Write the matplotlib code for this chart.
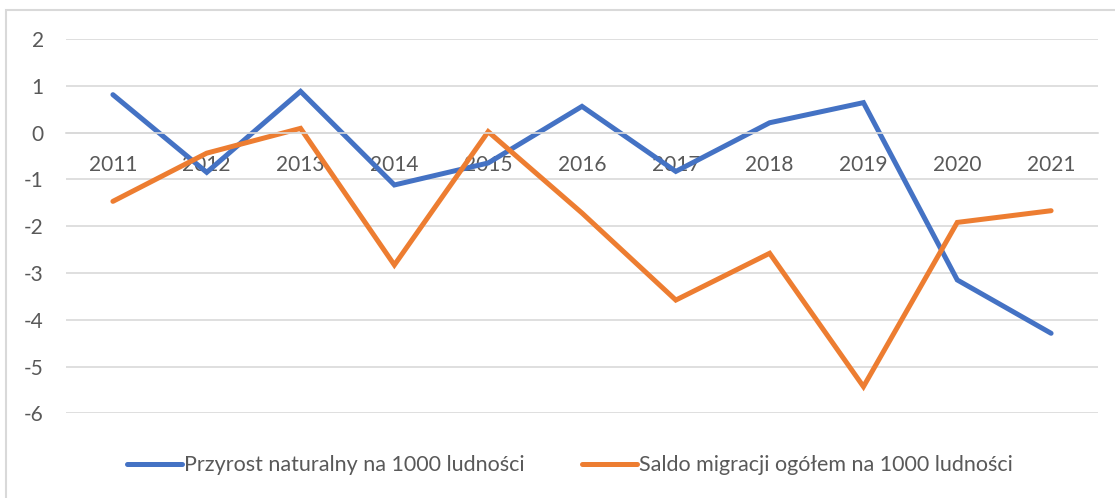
import matplotlib
matplotlib.use('Agg')
import matplotlib.pyplot as plt
from matplotlib.patches import Rectangle

plt.rcParams['font.family'] = ['Lato', 'DejaVu Sans']

# Data
years = ['2011', '2012', '2013', '2014', '2015', '2016',
         '2017', '2018', '2019', '2020', '2021']
przyrost = [0.81, -0.85, 0.88, -1.12, -0.65, 0.56, -0.83, 0.21, 0.64, -3.15, -4.29]
saldo = [-1.47, -0.44, 0.09, -2.83, 0.02, -1.72, -3.58, -2.58, -5.43, -1.92, -1.67]
yticks = [2, 1, 0, -1, -2, -3, -4, -5, -6]

label_przyrost = 'Przyrost naturalny na 1000 ludności'
label_saldo = 'Saldo migracji ogółem na 1000 ludności'

blue = '#4472C4'
orange = '#ED7D31'
grid_col = '#D9D9D9'
text_col = '#595959'

W, H = 1115, 498
fig = plt.figure(figsize=(W / 100, H / 100), dpi=100)

# outer chart border (partly cut off at right / bottom like the screenshot)
fig.patches.append(Rectangle((6 / W, -0.1), 1.2, (H - 10) / H + 0.1,
                             transform=fig.transFigure, fill=False,
                             edgecolor=grid_col, linewidth=1.5))

ax = fig.add_axes([66 / W, (H - 413.3) / H, 1032 / W, 374.3 / H])

x = list(range(len(years)))
ax.plot(x, przyrost, color=blue, linewidth=3.6, solid_capstyle='round',
        solid_joinstyle='miter', label=label_przyrost)
ax.plot(x, saldo, color=orange, linewidth=3.6, solid_capstyle='round',
        solid_joinstyle='miter', label=label_saldo)

ax.set_xlim(-0.5, len(years) - 0.5)
ax.set_ylim(-6, 2)
ax.set_yticks(yticks)
ax.set_yticklabels([str(v) for v in yticks])
ax.set_xticks(x)
ax.set_xticklabels(years)

ax.grid(axis='y', color=grid_col, linewidth=1.2)
ax.set_axisbelow(True)
for s in ['top', 'right', 'left']:
    ax.spines[s].set_visible(False)
ax.spines['bottom'].set_position(('data', 0))
ax.spines['bottom'].set_color(grid_col)
ax.spines['bottom'].set_linewidth(1.2)

ax.tick_params(axis='both', length=0, labelsize=15, labelcolor=text_col)
ax.tick_params(axis='y', pad=16)
ax.tick_params(axis='x', pad=16)

fig.legend(loc='center', bbox_to_anchor=(570 / W, 0.066), ncol=2,
           frameon=False, fontsize=15.5, labelcolor=text_col,
           handlelength=2.55, handletextpad=0.1, columnspacing=2.7)

fig.savefig('out.png', dpi=100, facecolor='white')
